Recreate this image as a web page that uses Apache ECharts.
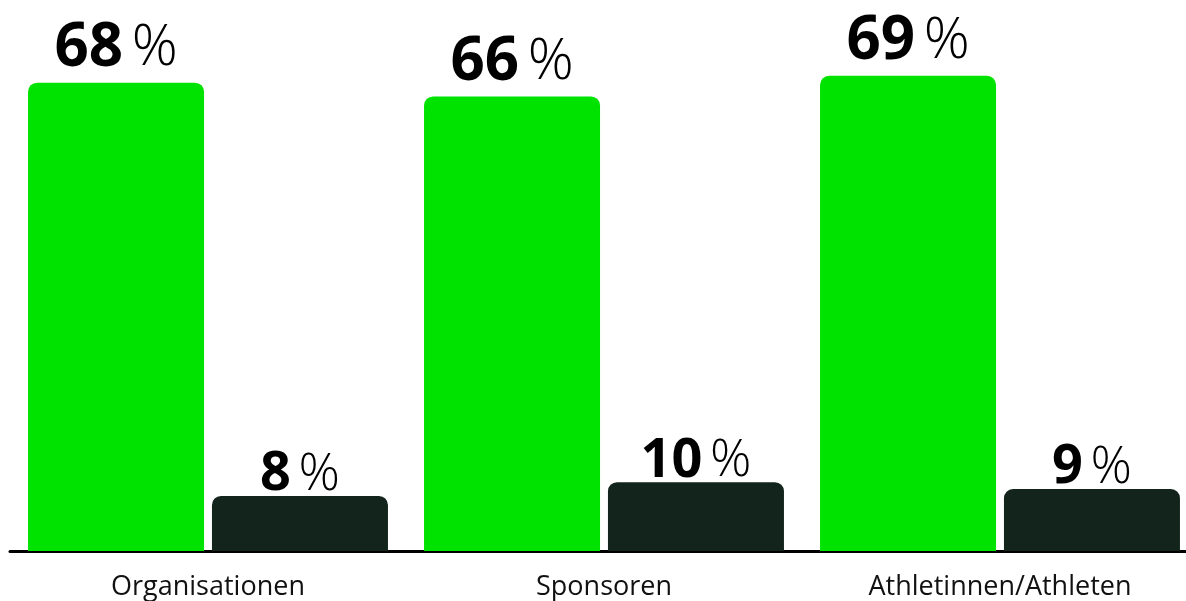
<!DOCTYPE html>
<html>
<head>
<meta charset="utf-8">
<style>
  html, body { margin: 0; padding: 0; background: #fff; }
  #chart { width: 1186px; height: 601px; }
</style>
<script src="https://cdn.jsdelivr.net/npm/echarts@6/dist/echarts.min.js"></script>
</head>
<body>
<div id="chart"></div>
<script>
// Daten
const categories = ['Organisationen', 'Sponsoren', 'Athletinnen/Athleten']
const greenValues = [68, 66, 69]
const darkValues = [8, 10, 9]

const GREEN = '#00e200'
const DARK = '#12241b'
const FONT = 'Open Sans'

const chart = echarts.init(document.getElementById('chart'))

// großes Label über grünen Balken, kleineres über dunklen
const makeLabel = (size, dist) => ({
  show: true,
  position: 'top',
  distance: dist,
  formatter: (p) => `{n|${p.value}}{s| }{p|%}`,
  rich: {
    n: { fontFamily: FONT, fontWeight: 700, fontSize: size, color: '#000', lineHeight: size },
    s: { fontFamily: FONT, fontSize: size * 0.55, lineHeight: size },
    p: { fontFamily: FONT, fontWeight: 300, fontSize: size * 0.95, color: '#000', lineHeight: size },
  },
})

const option = {
  animation: false,
  backgroundColor: '#fff',
  grid: { left: 10, right: -12, top: 0, bottom: 50, outerBoundsMode: 'none', containLabel: false },
  xAxis: {
    type: 'category',
    data: categories,
    offset: 1.5,
    axisLine: { lineStyle: { color: '#000', width: 3 } },
    axisTick: { show: false },
    axisLabel: {
      fontFamily: FONT,
      fontSize: 27,
      color: '#111',
      margin: 21,
      interval: 0,
    },
  },
  yAxis: {
    type: 'value',
    min: 0,
    max: 80,
    show: false,
    splitLine: { show: false },
  },
  series: [
    {
      type: 'bar',
      data: greenValues,
      barWidth: 176,
      barGap: '4.5%',
      itemStyle: { color: GREEN, borderRadius: [9, 9, 0, 0] },
      label: makeLabel(60, 4),
    },
    {
      type: 'bar',
      data: darkValues,
      barWidth: 176,
      barGap: '4.5%',
      itemStyle: { color: DARK, borderRadius: [9, 9, 0, 0] },
      label: makeLabel(54, -6),
    },
  ],
}

chart.setOption(option)
</script>
</body>
</html>
